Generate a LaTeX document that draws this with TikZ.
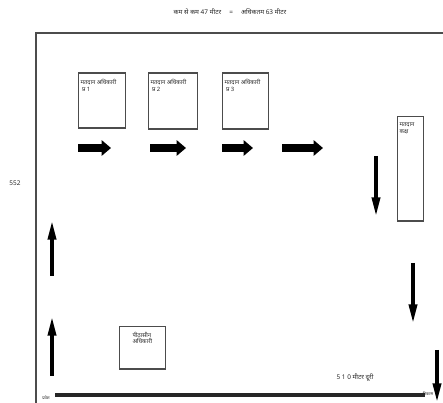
\documentclass[tikz,border=0pt]{standalone}
\usepackage{fontspec}
\newfontfamily\hindi[Script=Devanagari]{Noto Sans}
\usetikzlibrary{arrows.meta}

\tikzset{
  desk/.style={draw=black!70, line width=0.7pt, fill=white, anchor=north west, inner sep=0pt},
  deskrim/.style={draw=black!70, line width=1.6pt},
  small/.style={font=\hindi\fontsize{5}{5.5}\selectfont, text=black!85, inner sep=1pt, align=left},
  walk/.style={line width=6.5pt, -{Triangle[length=8pt, width=13pt]}},
  downward/.style={line width=2.8pt, -{Triangle[length=16pt, width=7pt]}},
}

\begin{document}
\begin{tikzpicture}[x=0.03cm, y=-0.03cm]
      \useasboundingbox (0,0) rectangle (443,403);

      % hall walls
      \draw[black!70, line width=1.6pt] (36,403) -- (36,33) -- (443,33);
      \draw[black!85, line width=2.8pt] (55,395) -- (425,395);
      \node[small, font=\hindi\fontsize{5.5}{6}\selectfont] (width) at (230,12) {कम से कम 47 मीटर \quad = \quad अधिकतम 63 मीटर};
      \node[small, font=\hindi\fontsize{5.5}{6}\selectfont] (depth) at (15,183) {552};
      \node[small, font=\hindi\fontsize{5.5}{6}\selectfont] (gap) at (355,378) {5 1 0 मीटर दूरी};
      \node[small, font=\hindi\fontsize{3.5}{4}\selectfont] (entry) at (46,398) {प्रवेश};
      \node[small, font=\hindi\fontsize{3.5}{4}\selectfont] (exit) at (428,394) {निकास};

      % polling officers
      \node[desk, minimum width=1.41cm, minimum height=1.62cm] (po1) at (78,73) {};
      \node[desk, minimum width=1.47cm, minimum height=1.65cm] (po2) at (148,73) {};
      \node[desk, minimum width=1.38cm, minimum height=1.65cm] (po3) at (222,73) {};
      \foreach \b/\n in {po1/1, po2/2, po3/3} {
        \draw[deskrim] (\b.north west) -- (\b.north east);
        \draw[deskrim] (\b.south west) -- (\b.south east);
        \node[small, anchor=north west] (\b text) at ([shift={(1pt,-4pt)}]\b.north west) {मतदान अधिकारी\\[1pt] \ प्र \n};
      }

      % voting compartment and presiding officer
      \node[desk, minimum width=0.78cm, minimum height=3.12cm] (booth) at (397,116) {};
      \draw[deskrim] (booth.south west) -- (booth.south east);
      \node[small, anchor=north west] (booth text) at ([shift={(1pt,-5pt)}]booth.north west) {मतदान\\ कक्ष};
      \node[desk, minimum width=1.38cm, minimum height=1.26cm] (pre) at (119,326) {};
      \draw[deskrim] (pre.south west) -- (pre.south east);
      \node[small, anchor=north] (pre text) at ([yshift=-4pt]pre.north) {पीठासीन\\ अधिकारी};

      % voter route
      \foreach \i/\a/\b in {1/78/111, 2/150/186, 3/222/253, 4/282/323} {
        \coordinate (r\i s) at (\a,148);
        \coordinate (r\i e) at (\b,148);
        \draw[walk] (r\i s) -- (r\i e);
      }
      \coordinate (u1s) at (52,276); \coordinate (u1e) at (52,221);
      \coordinate (u2s) at (52,376); \coordinate (u2e) at (52,317);
      \draw[downward] (u1s) -- (u1e);
      \draw[downward] (u2s) -- (u2e);
      \coordinate (d1s) at (376,156); \coordinate (d1e) at (376,216);
      \coordinate (d2s) at (413,263); \coordinate (d2e) at (413,323);
      \coordinate (d3s) at (437,350); \coordinate (d3e) at (437,402);
      \foreach \d in {d1, d2, d3}
        \draw[downward] (\d s) -- (\d e);
    \end{tikzpicture}
\end{document}
